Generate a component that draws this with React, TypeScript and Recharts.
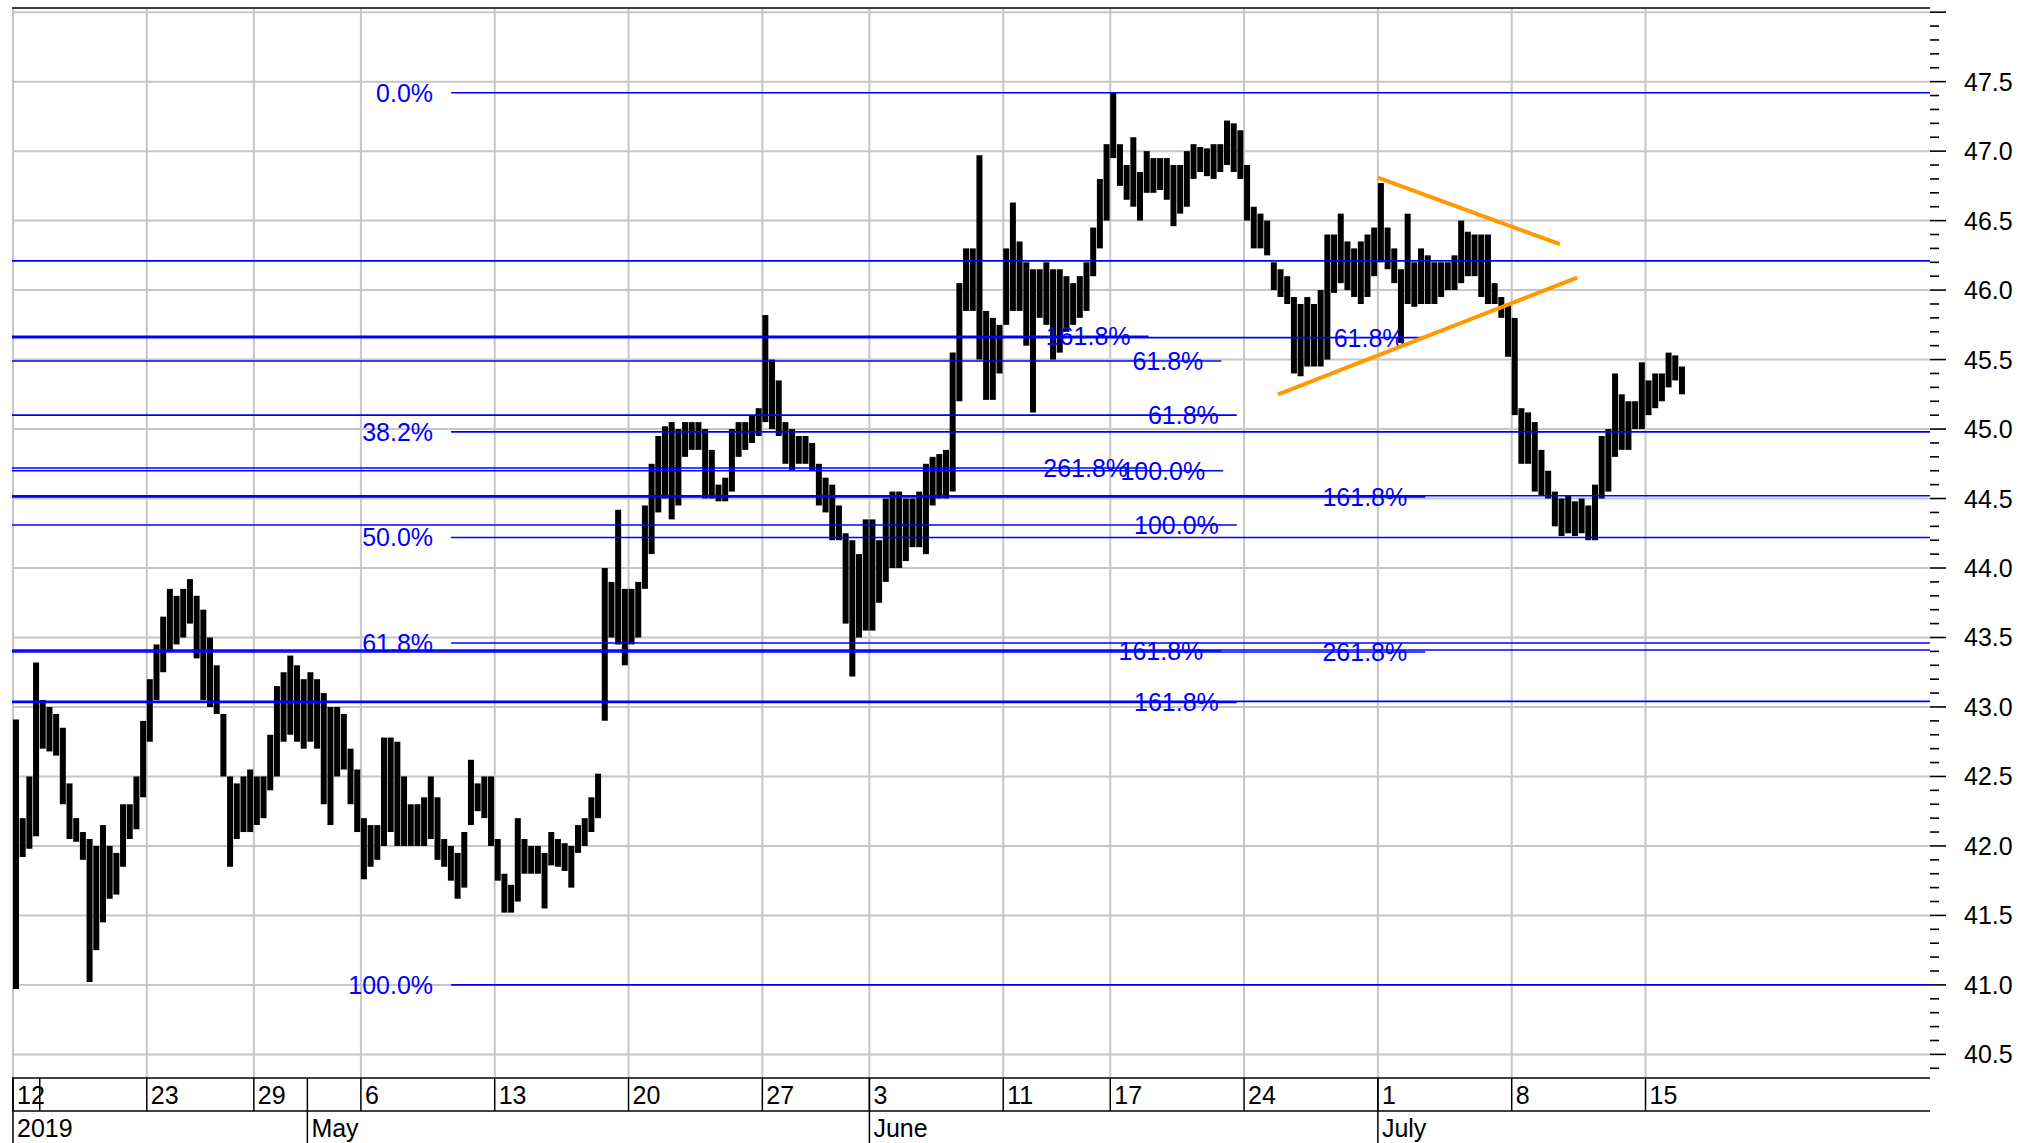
import React from 'react';
import { ComposedChart, Bar, XAxis, YAxis, CartesianGrid, ReferenceLine } from 'recharts';

const FONT = '"Liberation Sans", Arial, Helvetica, sans-serif';

// Intraday ranges [low, high], four slots per trading day
const aprilBars: [number, number][][] = [
  [[40.97, 42.91], [41.92, 42.2], [41.98, 42.5], [42.07, 43.32]], // Apr 12
  [[42.7, 43.05], [42.68, 43.0], [42.65, 42.95], [42.3, 42.85]], // Apr 15
  [[42.05, 42.45], [42.03, 42.2], [41.9, 42.1], [41.02, 42.05]],
  [[41.25, 42.0], [41.45, 42.15], [41.62, 42.0], [41.65, 41.95]],
  [[41.85, 42.3], [42.05, 42.3], [42.12, 42.5], [42.35, 42.9]],
  [[42.75, 43.2], [43.05, 43.45], [43.25, 43.65], [43.4, 43.85]], // Apr 23
  [[43.45, 43.8], [43.5, 43.85], [43.6, 43.92], [43.35, 43.8]],
  [[43.05, 43.7], [43.0, 43.5], [42.95, 43.3], [42.5, 42.95]],
  [[41.85, 42.5], [42.05, 42.45], [42.1, 42.5], [42.1, 42.55]],
  [[42.15, 42.5], [42.2, 42.5], [42.4, 42.8], [42.5, 43.15]], // Apr 29
  [[42.75, 43.25], [42.8, 43.37], [42.75, 43.3], [42.7, 43.2]],
];

const mayBars: [number, number][][] = [
  [[42.75, 43.25], [42.7, 43.2], [42.3, 43.1], [42.15, 43.0]], // May 2
  [[42.5, 43.0], [42.55, 42.95], [42.3, 42.7], [42.1, 42.55]],
  [[41.76, 42.2], [41.85, 42.15], [41.9, 42.15], [42.0, 42.78]], // May 6
  [[42.1, 42.78], [42.0, 42.75], [42.0, 42.5], [42.0, 42.3]],
  [[42.0, 42.3], [42.0, 42.35], [42.05, 42.5], [41.9, 42.35]],
  [[41.85, 42.05], [41.75, 42.0], [41.62, 41.95], [41.7, 42.1]],
  [[42.15, 42.62], [42.25, 42.45], [42.2, 42.5], [42.0, 42.5]],
  [[41.75, 42.05], [41.52, 41.8], [41.52, 41.72], [41.6, 42.2]], // May 13
  [[41.8, 42.05], [41.8, 42.0], [41.8, 42.0], [41.55, 41.95]],
  [[41.86, 42.1], [41.85, 42.05], [41.82, 42.02], [41.7, 42.0]],
  [[41.95, 42.15], [42.0, 42.2], [42.1, 42.35], [42.2, 42.52]],
  [[42.9, 44.0], [43.5, 43.9], [43.45, 44.42], [43.3, 43.85]],
  [[43.45, 43.85], [43.5, 43.9], [43.85, 44.45], [44.1, 44.75]], // May 20
  [[44.4, 44.95], [44.5, 45.02], [44.35, 45.05], [44.45, 45.0]],
  [[44.8, 45.05], [44.85, 45.05], [44.85, 45.05], [44.5, 45.0]],
  [[44.5, 44.85], [44.48, 44.6], [44.48, 44.65], [44.55, 45.0]],
  [[44.8, 45.05], [44.85, 45.05], [44.9, 45.1], [44.95, 45.15]],
  [[45.05, 45.82], [45.0, 45.5], [44.95, 45.35], [44.75, 45.05]], // May 27
  [[44.7, 45.0], [44.75, 44.95], [44.75, 44.95], [44.7, 44.9]],
  [[44.45, 44.75], [44.4, 44.65], [44.2, 44.6], [44.2, 44.45]],
  [[43.6, 44.25], [43.22, 44.2], [43.5, 44.1], [43.55, 44.35]],
];

const juneBars: [number, number][][] = [
  [[43.55, 44.35], [43.75, 44.2], [43.9, 44.5], [44.0, 44.55]], // Jun 3
  [[44.0, 44.55], [44.05, 44.5], [44.15, 44.5], [44.15, 44.55]],
  [[44.1, 44.75], [44.45, 44.8], [44.5, 44.82], [44.5, 44.85]],
  [[44.55, 45.55], [45.2, 46.05], [45.85, 46.3], [45.85, 46.3]],
  [[45.5, 46.97], [45.21, 45.85], [45.21, 45.8], [45.4, 45.75]],
  [[45.75, 46.3], [45.85, 46.63], [45.85, 46.35], [45.6, 46.2]], // Jun 11
  [[45.12, 46.15], [45.8, 46.15], [45.75, 46.2], [45.5, 46.15]],
  [[45.55, 46.15], [45.7, 46.1], [45.75, 46.05], [45.8, 46.1]],
  [[45.85, 46.2], [46.1, 46.45], [46.3, 46.8], [46.5, 47.05]],
  [[46.95, 47.42], [46.75, 47.05], [46.65, 46.9], [46.6, 47.1]], // Jun 17
  [[46.5, 46.85], [46.7, 47.0], [46.7, 46.95], [46.72, 46.95]],
  [[46.65, 46.95], [46.46, 46.9], [46.55, 46.9], [46.6, 47.0]],
  [[46.8, 47.05], [46.85, 47.03], [46.82, 47.02], [46.8, 47.05]],
  [[46.85, 47.05], [46.9, 47.22], [46.85, 47.2], [46.8, 47.15]],
  [[46.5, 46.9], [46.3, 46.6], [46.3, 46.55], [46.25, 46.5]], // Jun 24
  [[46.0, 46.2], [45.95, 46.15], [45.9, 46.1], [45.4, 45.95]],
  [[45.38, 45.9], [45.45, 45.95], [45.45, 45.9], [45.45, 46.0]],
  [[45.5, 46.4], [45.98, 46.4], [46.05, 46.55], [46.0, 46.35]],
  [[45.95, 46.3], [45.9, 46.35], [45.95, 46.4], [46.1, 46.45]],
];

const julyBars: [number, number][][] = [
  [[46.2, 46.77], [46.15, 46.45], [46.05, 46.3], [45.62, 46.15]], // Jul 1
  [[45.9, 46.55], [45.88, 46.2], [45.9, 46.3], [45.9, 46.25]],
  [[45.9, 46.2], [45.95, 46.2], [46.0, 46.2], [46.0, 46.25]],
  [[46.05, 46.5], [46.1, 46.42], [46.1, 46.4], [45.95, 46.4]],
  [[45.9, 46.4], [45.9, 46.05], [45.8, 45.95], [45.52, 45.9]],
  [[45.1, 45.8], [44.75, 45.15], [44.75, 45.12], [44.55, 45.05]], // Jul 8
  [[44.52, 44.85], [44.5, 44.7], [44.3, 44.55], [44.23, 44.5]],
  [[44.25, 44.52], [44.23, 44.48], [44.25, 44.5], [44.2, 44.45]],
  [[44.2, 44.6], [44.5, 44.95], [44.55, 45.0], [44.8, 45.4]],
  [[44.85, 45.25], [44.85, 45.2], [45.0, 45.2], [45.0, 45.48]],
  [[45.1, 45.35], [45.15, 45.4], [45.2, 45.4], [45.3, 45.55]], // Jul 15
  [[45.35, 45.53], [45.25, 45.45]],
];

// Date axis (trading-day index)
const weekTickDays = [0, 1, 5, 9, 13, 18, 23, 28, 32, 37, 41, 46, 51, 56, 61];
const weekTickLabels = ['12', '', '23', '29', '6', '13', '20', '27', '3', '11', '17', '24', '1', '8', '15'];
const gridDays = [0, 5, 9, 13, 18, 23, 28, 32, 37, 41, 46, 51, 56, 61];
const monthTickDays = [0, 11, 32, 51];
const monthTickLabels = ['2019', 'May', 'June', 'July'];

// Price axis
const priceLabels = [40.5, 41.0, 41.5, 42.0, 42.5, 43.0, 43.5, 44.0, 44.5, 45.0, 45.5, 46.0, 46.5, 47.0, 47.5];
const gridPrices = [...priceLabels, 48.0];
const minorPriceTicks = Array.from({ length: 77 }, (_, i) => Math.round(404 + i) / 10);

const X_MIN = -0.037;
const X_MAX = 71.63;
const Y_MIN = 40.33;
const Y_MAX = 48.03;

// Fibonacci levels: price, start day (null = left edge), end day (null = right edge), label
const fibLines: { level: number; from: number | null; to: number | null; label: string }[] = [
  { level: 47.42, from: 16.37, to: null, label: '0.0%' },
  { level: 46.21, from: null, to: null, label: '' },
  { level: 45.668, from: null, to: 42.43, label: '161.8%' },
  { level: 45.658, from: null, to: 52.67, label: '61.8%' },
  { level: 45.49, from: null, to: 45.15, label: '61.8%' },
  { level: 45.1, from: null, to: 45.73, label: '61.8%' },
  { level: 44.98, from: 16.37, to: null, label: '38.2%' },
  { level: 44.72, from: null, to: 42.34, label: '261.8%' },
  { level: 44.7, from: null, to: 45.22, label: '100.0%' },
  { level: 44.52, from: null, to: null, label: '' },
  { level: 44.512, from: null, to: 52.77, label: '161.8%' },
  { level: 44.31, from: null, to: 45.73, label: '100.0%' },
  { level: 44.22, from: 16.37, to: null, label: '50.0%' },
  { level: 43.46, from: 16.37, to: null, label: '61.8%' },
  { level: 43.41, from: null, to: null, label: '' },
  { level: 43.403, from: null, to: 45.15, label: '161.8%' },
  { level: 43.396, from: null, to: 52.77, label: '261.8%' },
  { level: 43.04, from: null, to: null, label: '' },
  { level: 43.033, from: null, to: 45.73, label: '161.8%' },
  { level: 41.0, from: 16.37, to: null, label: '100.0%' },
];

// Triangle trend lines (day, price)
const trendStartDays = [51.0, 47.27];
const trendStartPrices = [46.81, 45.25];
const trendEndDays = [57.8, 58.45];
const trendEndPrices = [46.33, 46.09];

const rows = [...aprilBars, ...mayBars, ...juneBars, ...julyBars].flatMap((day, d) =>
  day.map((r, k) => ({ t: d + (k + 0.5) / 4, range: r }))
);

const DayTick = (props: any) => {
  const { x, y, payload } = props;
  const idx = weekTickDays.indexOf(payload.value);
  const label = idx >= 0 ? weekTickLabels[idx] : '';
  return (
    <g>
      <line x1={x} x2={x} y1={y} y2={y + 33} stroke="#000" strokeWidth={1.5} />
      <text x={x + 4} y={y + 26} fontSize={25} fontFamily={FONT} fill="#000">{label}</text>
    </g>
  );
};

const MonthTick = (props: any) => {
  const { x, y, payload } = props;
  const idx = monthTickDays.indexOf(payload.value);
  const label = idx >= 0 ? monthTickLabels[idx] : '';
  return (
    <g>
      <line x1={x} x2={x} y1={y - 33} y2={y + 32} stroke="#000" strokeWidth={1.5} />
      <text x={x + 4} y={y + 26} fontSize={25} fontFamily={FONT} fill="#000">{label}</text>
    </g>
  );
};

const PriceTick = (props: any) => {
  const { x, y, payload } = props;
  const v = payload.value as number;
  const major = Math.abs(v * 2 - Math.round(v * 2)) < 1e-6;
  const labelled = priceLabels.some((p) => Math.abs(p - v) < 1e-6);
  return (
    <g>
      <line x1={x} x2={x + (major ? 16 : 9)} y1={y} y2={y} stroke="#000" strokeWidth={1.6} />
      {labelled && (
        <text x={x + 34} y={y} dy="0.36em" fontSize={25} fontFamily={FONT} fill="#000">
          {v.toFixed(1)}
        </text>
      )}
    </g>
  );
};

const fibLabel = (text: string, atStart: boolean) => (props: any) => {
  const vb = props.viewBox || {};
  const x = atStart ? vb.x - 18 : vb.x + vb.width - 18;
  return (
    <text x={x} y={vb.y} dy="0.36em" textAnchor="end" fontSize={25} fontFamily={FONT} fill="#0000ff">
      {text}
    </text>
  );
};

export default function App() {
  return (
    <div style={{ position: 'absolute', left: 0, top: 0, width: 2037, height: 1143, background: '#fff' }}>
      <ComposedChart width={2037} height={1143} data={rows} margin={{ top: 8, right: 0, bottom: 0, left: 12 }}>
        <CartesianGrid
          xAxisId="days"
          yAxisId="price"
          horizontalValues={gridPrices}
          verticalValues={gridDays}
          stroke="#c6c6c6"
          strokeWidth={2}
        />
        <XAxis
          xAxisId="days"
          dataKey="t"
          type="number"
          domain={[X_MIN, X_MAX]}
          allowDataOverflow
          ticks={weekTickDays}
          interval={0}
          tickSize={0}
          tickMargin={0}
          tickLine={false}
          axisLine={{ stroke: '#000', strokeWidth: 1.5 }}
          height={33}
          tick={<DayTick />}
        />
        <XAxis
          xAxisId="months"
          dataKey="t"
          type="number"
          domain={[X_MIN, X_MAX]}
          allowDataOverflow
          ticks={monthTickDays}
          interval={0}
          tickSize={0}
          tickMargin={0}
          tickLine={false}
          axisLine={{ stroke: '#000', strokeWidth: 1.5 }}
          height={32}
          tick={<MonthTick />}
        />
        <YAxis
          yAxisId="price"
          orientation="right"
          type="number"
          domain={[Y_MIN, Y_MAX]}
          allowDataOverflow
          ticks={minorPriceTicks}
          interval={0}
          tickSize={0}
          tickMargin={0}
          tickLine={false}
          axisLine={false}
          width={107}
          tick={<PriceTick />}
        />
        <Bar xAxisId="days" yAxisId="price" dataKey="range" fill="#000" barSize={6} isAnimationActive={false} />
        {fibLines.map((f, i) => {
          const x1 = f.from === null ? X_MIN : f.from;
          const x2 = f.to === null ? X_MAX : f.to;
          return (
            <ReferenceLine
              key={'fib' + i}
              xAxisId="days"
              yAxisId="price"
              ifOverflow="visible"
              segment={[{ x: x1, y: f.level }, { x: x2, y: f.level }]}
              stroke="#0000ff"
              strokeWidth={1.6}
              label={f.label ? fibLabel(f.label, f.from !== null) : undefined}
            />
          );
        })}
        {trendStartDays.map((d, i) => (
          <ReferenceLine
            key={'trend' + i}
            xAxisId="days"
            yAxisId="price"
            ifOverflow="visible"
            segment={[{ x: d, y: trendStartPrices[i] }, { x: trendEndDays[i], y: trendEndPrices[i] }]}
            stroke="#ff9900"
            strokeWidth={4}
          />
        ))}
        <ReferenceLine xAxisId="days" yAxisId="price" y={Y_MAX} stroke="#000" strokeWidth={1.5} ifOverflow="visible" />
      </ComposedChart>
    </div>
  );
}
